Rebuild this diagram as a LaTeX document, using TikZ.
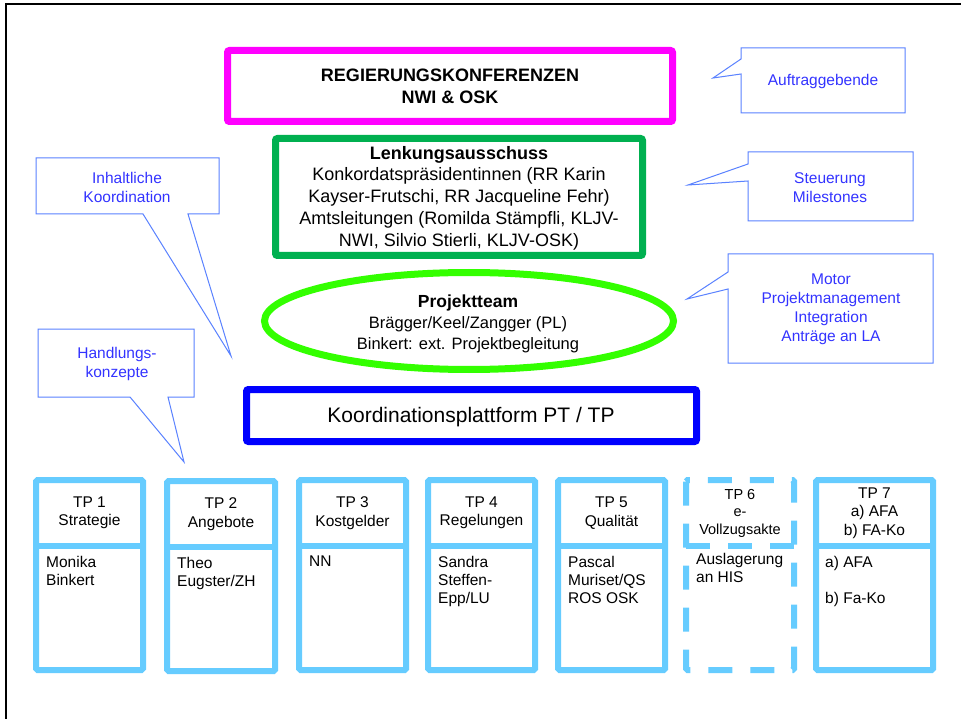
\documentclass[tikz,border=0pt]{standalone}
\usepackage{fontspec}
\setmainfont{Liberation Sans}
\definecolor{rkmagenta}{RGB}{255,0,255}
\definecolor{lagreen}{RGB}{0,176,80}
\definecolor{ptgreen}{RGB}{51,255,0}
\definecolor{kpblue}{RGB}{0,0,255}
\definecolor{tpblue}{RGB}{102,204,255}
\definecolor{calline}{RGB}{90,130,255}
\definecolor{caltext}{RGB}{51,51,255}
\tikzset{%
    mainbox/.style={line width=7pt, rounded corners=2pt},
    tpbox/.style={line width=6pt, draw=tpblue, rounded corners=1.5pt},
    tphead/.style={align=center, font=\fontsize{15.5}{18.5}\selectfont},
    tpbody/.style={align=left, anchor=north west, inner sep=0pt, font=\fontsize{15.5}{18}\selectfont},
    callbox/.style={draw=calline, line width=1pt, line join=miter},
    calltxt/.style={align=center, text=caltext, font=\fontsize{15.5}{19}\selectfont}
}

\begin{document}
\begin{tikzpicture}[x=1pt, y=-1pt]
            \useasboundingbox (0,0) rectangle (961,719);
            \clip (0,0) rectangle (961,719);
            \fill[white] (0,0) rectangle (961,719);
            % outer frame
            \draw[line width=2pt] (6,4) rectangle (985,745);

            % Regierungskonferenzen
            \draw[mainbox, draw=rkmagenta] (227.5,50.5) rectangle (672.5,121.5);
            \node[align=center, font=\bfseries\fontsize{18}{22}\selectfont] (regkonf) at (450,86)
                {REGIERUNGSKONFERENZEN\\NWI \& OSK};

            % Lenkungsausschuss
            \draw[mainbox, draw=lagreen] (275.5,138.5) rectangle (642.5,255.5);
            \node[align=center, font=\fontsize{18}{21.7}\selectfont] (lenkung) at (459,198)
                {\textbf{Lenkungsausschuss}\\Konkordatspräsidentinnen (RR Karin\\Kayser-Frutschi, RR Jacqueline Fehr)\\Amtsleitungen (Romilda Stämpfli, KLJV-\\NWI, Silvio Stierli, KLJV-OSK)};

            % Projektteam
            \draw[line width=7pt, draw=ptgreen] (469,321) ellipse (204.5pt and 48.5pt);
            \node[align=center, font=\fontsize{16.5}{21}\selectfont] (pteam) at (468,324)
                {{\bfseries\fontsize{17.5}{21}\selectfont Projektteam}\\Brägger/Keel/Zangger (PL)\\Binkert: ext. Projektbegleitung};

            % Koordinationsplattform
            \draw[mainbox, draw=kpblue] (246.5,389.5) rectangle (696.5,441.5);
            \node[font=\fontsize{21}{25}\selectfont] (plattform) at (471,417) {Koordinationsplattform PT / TP};

            % callouts right
            \draw[callbox] (741,48) -- (905,48) -- (905,113) -- (741,113) -- (741,74) -- (713,78) -- (741,59) -- cycle;
            \node[calltxt] (auftrag) at (823,81) {Auftraggebende};
            \draw[callbox] (748,152) -- (913,152) -- (913,221) -- (748,221) -- (748,181) -- (688,185) -- (748,164) -- cycle;
            \node[calltxt] (steuer) at (830,188) {Steuerung\\Milestones};
            \draw[callbox] (728,254) -- (933,254) -- (933,363) -- (728,363) -- (728,289) -- (687,299) -- (728,272) -- cycle;
            \node[calltxt] (motor) at (831,309) {Motor\\Projektmanagement\\Integration\\Anträge an LA};

            % callouts left
            \draw[callbox] (36,158) -- (219,158) -- (219,214) -- (188,214) -- (231,356) -- (143,214) -- (36,214) -- cycle;
            \node[calltxt] (inhalt) at (127,187) {Inhaltliche\\Koordination};
            \draw[callbox] (38,329) -- (194,329) -- (194,397) -- (168,397) -- (184,462) -- (130,397) -- (38,397) -- cycle;
            \node[calltxt] (handl) at (117,364) {Handlungs-\\konzepte};

            % TP 1
            \draw[tpbox] (36,480) rectangle (143,670);
            \draw[tpbox] (36,545.5) -- (143,545.5);
            \node[tphead] (tp1h) at (89.5,513) {TP 1\\Strategie};
            \node[tpbody] (tp1b) at (46,556) {Monika\\Binkert};

            % TP 2
            \draw[tpbox] (167,481) rectangle (275,671);
            \draw[tpbox] (167,546.5) -- (275,546.5);
            \node[tphead] (tp2h) at (221,514) {TP 2\\Angebote};
            \node[tpbody] (tp2b) at (177,557) {Theo\\Eugster/ZH};

            % TP 3
            \draw[tpbox] (299,480) rectangle (406,670);
            \draw[tpbox] (299,545.5) -- (406,545.5);
            \node[tphead] (tp3h) at (352.5,513) {TP 3\\Kostgelder};
            \node[tpbody] (tp3b) at (309,556) {NN};

            % TP 4
            \draw[tpbox] (428,480) rectangle (535,670);
            \draw[tpbox] (428,545.5) -- (535,545.5);
            \node[tphead] (tp4h) at (481.5,513) {TP 4\\Regelungen};
            \node[tpbody] (tp4b) at (438,556) {Sandra\\Steffen-\\Epp/LU};

            % TP 5
            \draw[tpbox] (558,480) rectangle (665,670);
            \draw[tpbox] (558,545.5) -- (665,545.5);
            \node[tphead] (tp5h) at (611.5,513) {TP 5\\Qualität};
            \node[tpbody] (tp5b) at (568,556) {Pascal\\Muriset/QS\\ROS OSK};

            % TP 6 (dashed)
            \draw[tpbox, dash pattern=on 24pt off 18pt] (686,480) rectangle (794,670);
            \draw[tpbox, dash pattern=on 24pt off 18pt] (686,545.5) -- (794,545.5);
            \node[tphead, font=\fontsize{14.5}{17.5}\selectfont] (tp6h) at (740,513) {TP 6\\e-\\Vollzugsakte};
            \node[tpbody] (tp6b) at (696,553) {Auslagerung\\an HIS};

            % TP 7
            \draw[tpbox] (816,480) rectangle (933,670);
            \draw[tpbox] (816,545.5) -- (933,545.5);
            \node[tphead] (tp7h) at (874.5,513) {TP 7\\a) AFA\\b) FA-Ko};
            \node[tpbody] (tp7b) at (825,556) {a) AFA\\[18pt]b) Fa-Ko};
\end{tikzpicture}
\end{document}
